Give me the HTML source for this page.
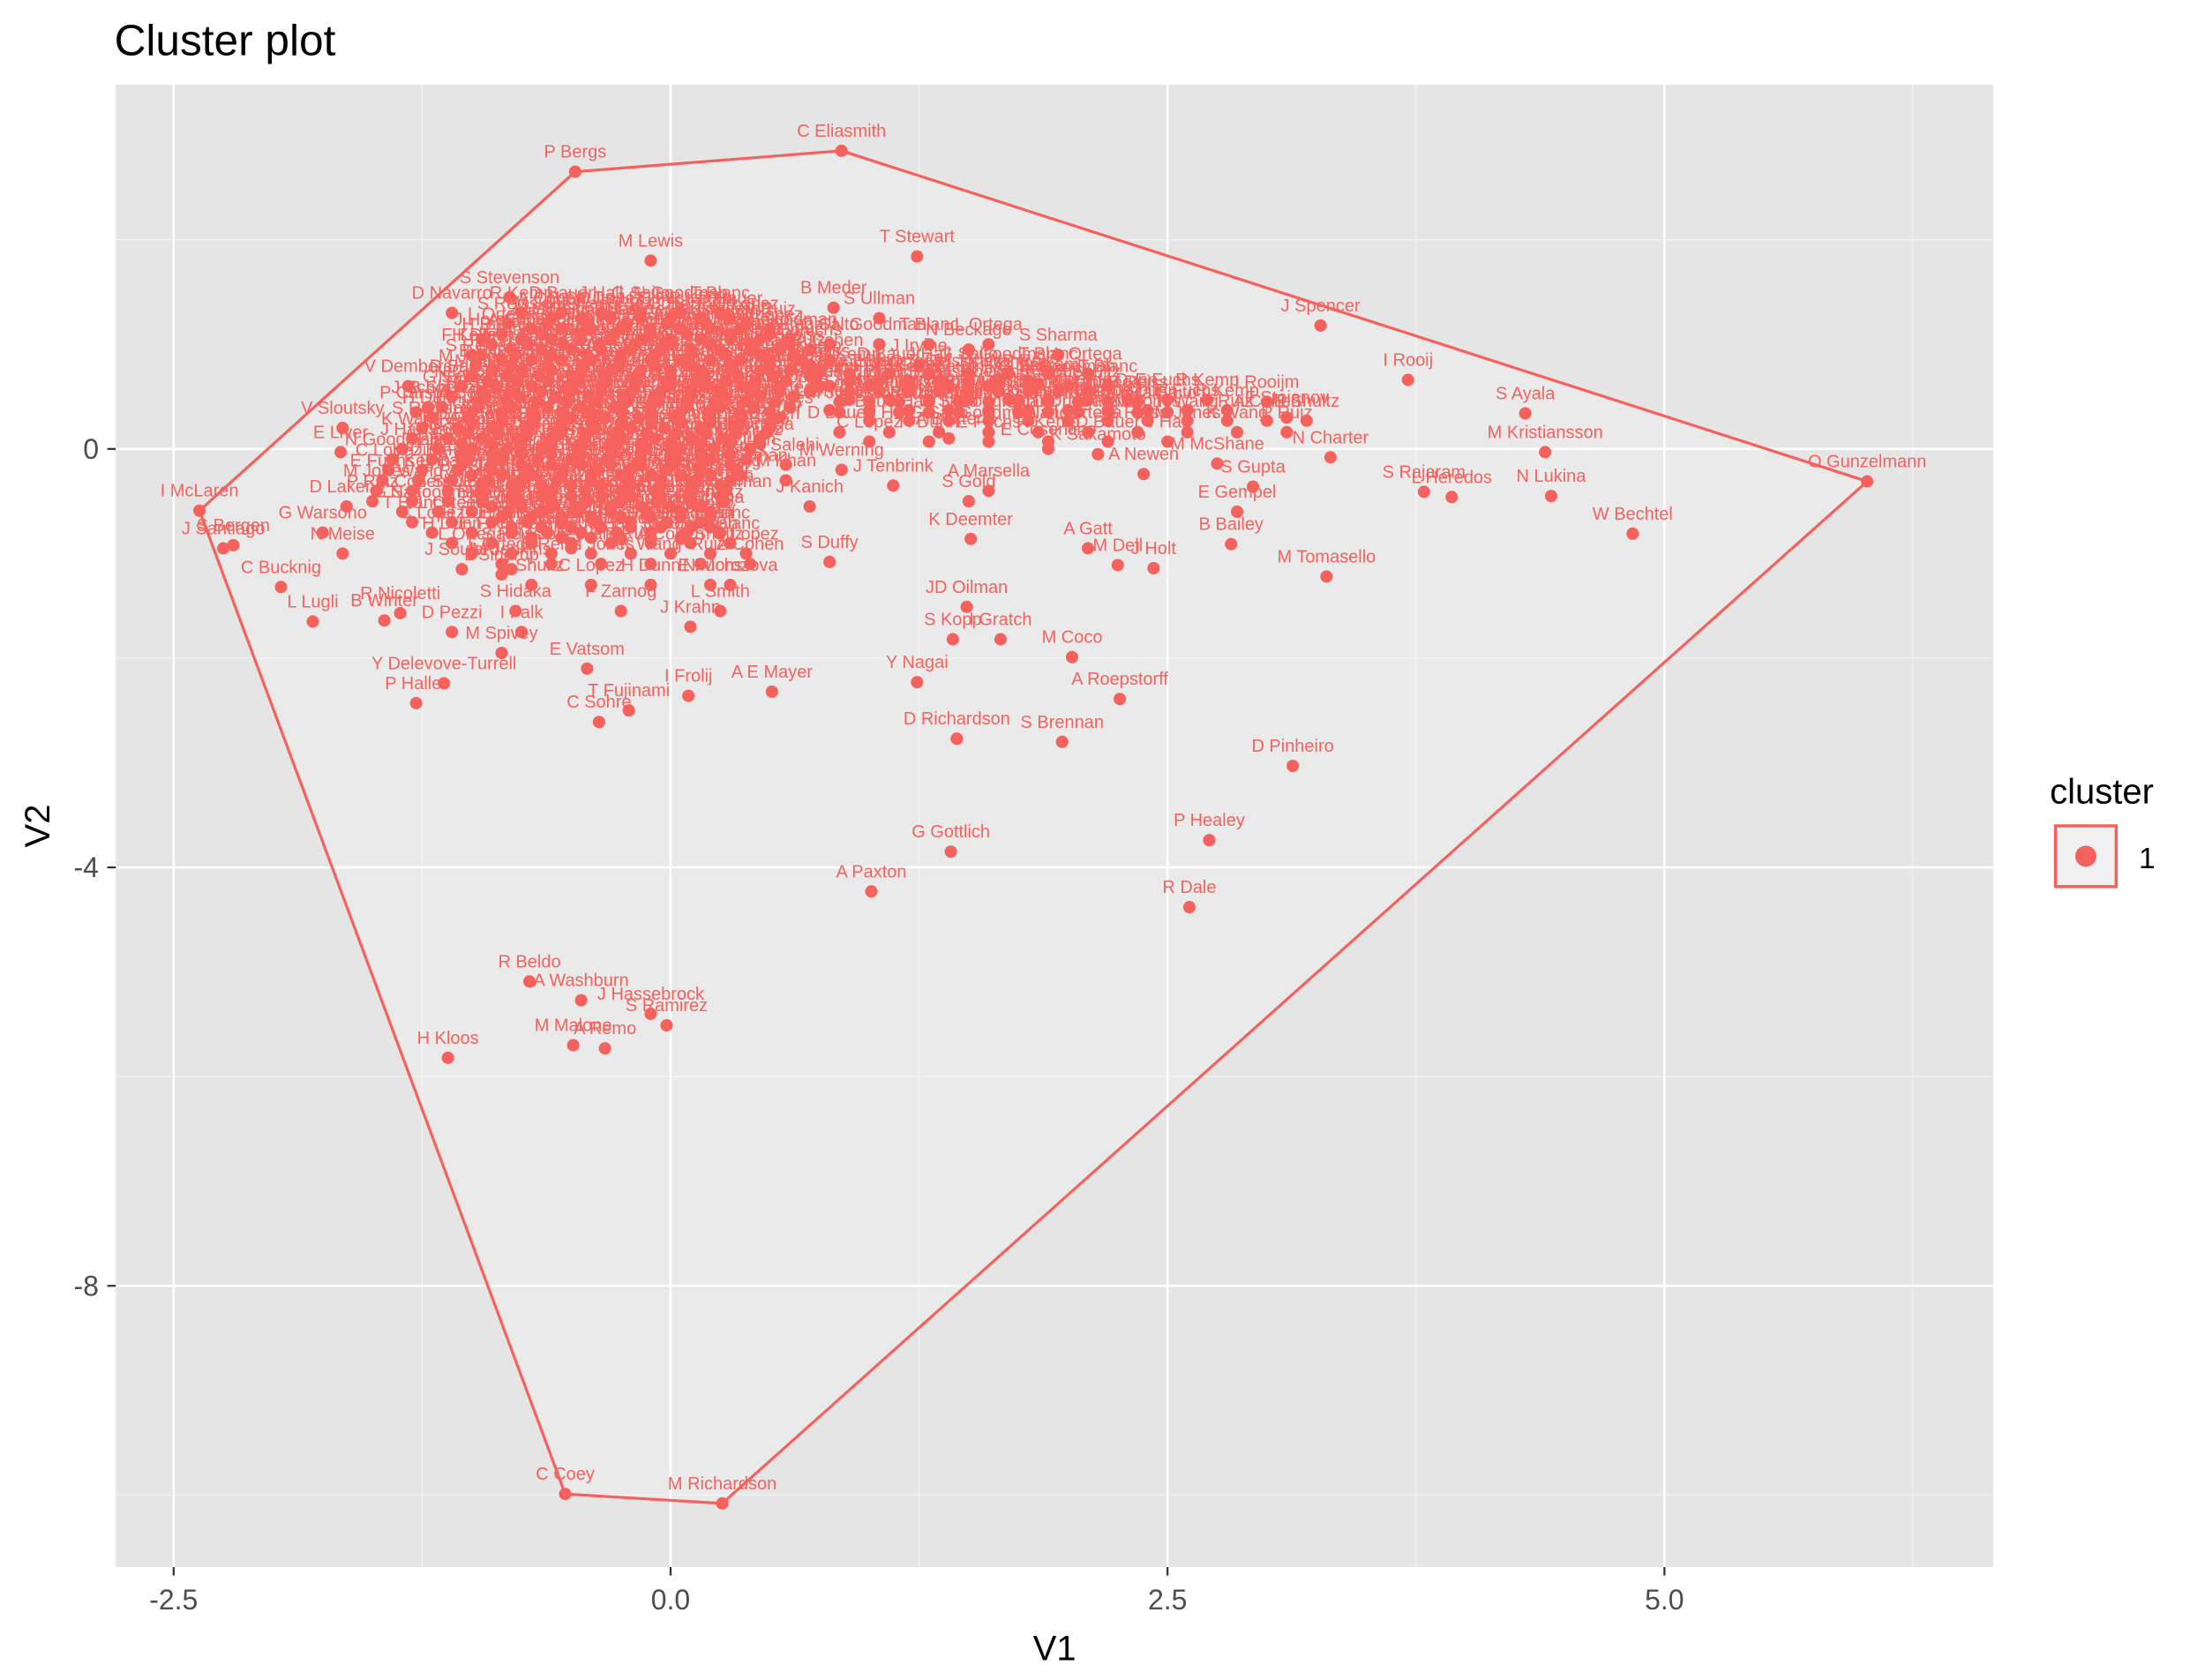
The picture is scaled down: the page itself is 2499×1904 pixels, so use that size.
<!DOCTYPE html>
<html><head><meta charset="utf-8"><style>
html,body{margin:0;padding:0;background:#fff}
svg{display:block}
text{font-family:"Liberation Sans",Arial,sans-serif}
</style></head><body>
<svg id="chart" width="2499" height="1904" viewBox="0 0 1561.9 1190" xmlns="http://www.w3.org/2000/svg">
<text x="81" y="39" font-size="31" fill="#000">Cluster plot</text>
<rect x="82" y="60" width="1330" height="1050" fill="#E5E5E5"/>
<g id="grid"></g>
<g id="hull"></g>
<g id="marks"></g>
<g id="axes"></g>
<text x="747" y="1176" font-size="25" text-anchor="middle">V1</text>
<text transform="translate(35,585) rotate(-90)" font-size="25" text-anchor="middle">V2</text>
<g>
<text x="1452" y="569" font-size="25">cluster</text>
<rect x="1456" y="585" width="43" height="43" fill="#F0F0F0" stroke="#F5625D" stroke-width="2.2"/>
<circle cx="1477.5" cy="606.5" r="7.5" fill="#F5625D"/>
<text x="1515" y="615" font-size="21">1</text>
</g>
</svg>
<script>
const xTicks = [-2.5, 0, 2.5, 5];
const xTickLabels = ["-2.5", "0.0", "2.5", "5.0"];
const xMinor = [-1.25, 1.25, 3.75, 6.25];
const yTicks = [0, -4, -8];
const yTickLabels = ["0", "-4", "-8"];
const yMinor = [2, -2, -6, -10];

const names = ["I McLaren","P Bergs","C Eliasmith","O Gunzelmann","M Richardson","C Coey","J Santiago","S Bergen",
"T Stewart","J Spencer","I Rooij","S Ayala","M Kristiansson","S Rajaram","L Heredos","N Lukina","W Bechtel","M Tomasello","N Charter",
"P Healey","R Dale","D Pinheiro","A Roepstorff","M Coco","S Brennan","D Richardson","Y Nagai","A Paxton","G Gottlich","S Kopp","I Gratch",
"JD Oilman","K Deemter","A Gatt","M Dell","J Holt","B Bailey","S Gupta","E Gempel","A Newen","M McShane","S Duffy","H Kloos","R Beldo",
"A Washburn","M Malone","A Remo","S Ramirez","J Hassebrock","L Lugli","B Winter","R Nicoletti","C Bucknig","Y Delevove-Turrell","P Haller",
"T Fujinami","C Sohre","I Frolij","A E Mayer","E Vatsom","M Lewis","S Stevenson","V Dembers","V Sloutsky","E Liver","G Warsono","D Lakens",
"N Meise","M Werning","J Tenbrink","N Salehi","M Khan","S Ullman","B Meder","N Beckage","S Sharma","D Markam","E Cosentino","K Sakamoto",
"A Baxter","J Kanich","S Gold","A Marsella","J Horst","F Keller","D Navarro","P Carson","J Schoen","L Sindrup","S Hidaka","L Smith","F Zarnog",
"I Falk","D Pezzi","M Spivey","J Krahn","N Morozova","M Jenkins","J Soulard","A Zary","C Prado","J Irvine","I Rooijm","F Stojanov"];
const v1 = [-2.37,-0.48,0.86,6.02,0.26,-0.53,-2.25,-2.2,
1.24,3.27,3.71,4.30,4.40,3.79,3.93,4.43,4.84,3.30,3.32,
2.71,2.61,3.13,2.26,2.02,1.97,1.44,1.24,1.01,1.41,1.42,1.66,
1.49,1.51,2.10,2.25,2.43,2.82,2.93,2.85,2.38,2.75,0.80,-1.12,-0.71,
-0.45,-0.49,-0.33,-0.02,-0.1,-1.80,-1.44,-1.36,-1.96,-1.14,-1.28,
-0.21,-0.36,0.09,0.51,-0.42,-0.10,-0.81,-1.32,-1.65,-1.66,-1.75,-1.63,
-1.65,0.86,1.12,0.58,0.58,1.05,0.82,1.5,1.95,1.85,1.9,2.15,
1.4,0.7,1.5,1.6,-0.95,-1.0,-1.1,-1.28,-1.22,-0.85,-0.78,0.25,-0.25,
-0.75,-1.1,-0.85,0.1,0.3,-0.8,-1.05,0.2,-0.5,1.25,3.0,3.1];
const v2 = [-0.59,2.65,2.85,-0.31,-10.08,-9.99,-0.95,-0.92,
1.84,1.18,0.66,0.34,-0.03,-0.41,-0.46,-0.45,-0.81,-1.22,-0.08,
-3.74,-4.38,-3.03,-2.39,-1.99,-2.80,-2.77,-2.23,-4.23,-3.85,-1.82,-1.82,
-1.51,-0.86,-0.95,-1.11,-1.14,-0.91,-0.36,-0.60,-0.24,-0.14,-1.08,-5.82,-5.09,
-5.27,-5.70,-5.73,-5.51,-5.4,-1.65,-1.64,-1.57,-1.32,-2.24,-2.43,
-2.50,-2.61,-2.36,-2.32,-2.1,1.80,1.45,0.6,0.2,-0.03,-0.8,-0.55,
-1.0,-0.2,-0.35,-0.15,-0.3,1.25,1.35,0.95,0.9,0.62,0.0,-0.05,
0.1,-0.55,-0.5,-0.4,1.05,0.9,1.3,0.35,0.4,-1.2,-1.55,-1.55,-1.55,
-1.75,-1.75,-1.95,-1.7,-1.3,-1.15,-1.15,-0.75,-0.95,0.8,0.45,0.3];

const cloudRowV2 = [1.3,1.1,0.9,0.7,0.5,0.3,0.1,-0.1,-0.3,-0.5,-0.7,-0.9,-1.1,-1.3,0.72,0.47,0.27,0.07,1.0,
1.2,1.0,0.8,0.6,0.4,0.2,0.0,-0.2,-0.4,-0.6,-0.8,-1.0,0.6,0.37,0.16];
const cloudRowV1 = [
[-0.75,-0.55,-0.35,-0.15,0.05,0.25],
[-0.85,-0.65,-0.45,-0.28,-0.1,0.08,0.3,0.5],
[-0.95,-0.78,-0.6,-0.42,-0.25,-0.08,0.1,0.28,0.45,0.62],
[-1.0,-0.82,-0.66,-0.5,-0.33,-0.17,0.0,0.17,0.34,0.52,0.7],
[-1.1,-0.93,-0.76,-0.58,-0.41,-0.24,-0.07,0.1,0.27,0.45,0.62],
[-1.2,-1.02,-0.85,-0.68,-0.5,-0.33,-0.16,0.02,0.19,0.36,0.55],
[-1.3,-1.12,-0.95,-0.77,-0.6,-0.43,-0.25,-0.08,0.1,0.27,0.45],
[-1.4,-1.2,-1.02,-0.85,-0.67,-0.5,-0.32,-0.15,0.03,0.2,0.38],
[-1.45,-1.27,-1.1,-0.92,-0.75,-0.57,-0.4,-0.22,-0.05,0.13,0.3],
[-1.5,-1.3,-1.12,-0.95,-0.77,-0.6,-0.42,-0.25,-0.07,0.1,0.27],
[-1.3,-1.1,-0.9,-0.72,-0.55,-0.37,-0.2,-0.02,0.15],
[-1.1,-0.9,-0.7,-0.5,-0.3,-0.1,0.1,0.3],
[-0.85,-0.6,-0.35,-0.1,0.15,0.4],
[-0.7,-0.4,-0.1,0.2],
[0.9,1.1,1.3,1.5,1.7,1.9,2.1],
[0.9,1.1,1.3,1.5,1.7,1.9,2.1,2.3,2.5,2.7],
[1.0,1.2,1.4,1.6,1.8,2.0,2.2,2.4,2.6,2.8,3.0,3.2],
[1.0,1.3,1.6,1.9,2.2,2.5],
[0.8,1.05,1.3,1.6],
[-0.82,-0.62,-0.42,-0.22,-0.02,0.18,0.38],
[-0.9,-0.72,-0.54,-0.36,-0.18,0.0,0.2,0.4,0.6],
[-0.98,-0.8,-0.62,-0.44,-0.26,-0.08,0.1,0.3,0.5,0.7],
[-1.05,-0.88,-0.7,-0.52,-0.35,-0.18,0.0,0.18,0.36,0.55,0.75],
[-1.15,-0.97,-0.8,-0.62,-0.45,-0.28,-0.1,0.08,0.25,0.42,0.6],
[-1.25,-1.07,-0.9,-0.72,-0.55,-0.38,-0.2,-0.03,0.15,0.32,0.5],
[-1.35,-1.17,-1.0,-0.82,-0.65,-0.47,-0.3,-0.12,0.05,0.22,0.4],
[-1.42,-1.25,-1.07,-0.9,-0.72,-0.55,-0.37,-0.2,-0.02,0.15,0.33],
[-1.48,-1.3,-1.12,-0.95,-0.78,-0.6,-0.43,-0.25,-0.08,0.1,0.28],
[-1.35,-1.17,-1.0,-0.82,-0.65,-0.47,-0.3,-0.12,0.05,0.2],
[-1.2,-1.0,-0.8,-0.62,-0.45,-0.27,-0.1,0.08,0.25],
[-1.0,-0.8,-0.6,-0.4,-0.2,0.0,0.2,0.38],
[0.8,1.0,1.2,1.4,1.6,1.8,2.0,2.2],
[0.8,1.0,1.2,1.4,1.6,1.8,2.0,2.2,2.4,2.6,2.8],
[0.85,1.1,1.35,1.6,1.85,2.1,2.35,2.6,2.85,3.1]];

// dense core of the main cloud (heavily overplotted region)
const coreRowV2 = [1.25,1.15,1.05,0.95,0.85,0.75,0.65,0.55,0.45,0.35,0.25,0.15,0.05,-0.05,-0.15,-0.25,-0.35,-0.45,-0.55,-0.65,-0.75,-0.85,0.55,0.45,0.35,0.65];
const coreRowV1 = [
[-0.6,-0.45,-0.3,-0.15,0.0,0.15,0.3],
[-0.7,-0.55,-0.4,-0.25,-0.1,0.05,0.2,0.35,0.5],
[-0.75,-0.6,-0.45,-0.3,-0.15,0.0,0.15,0.3,0.45,0.6],
[-0.8,-0.65,-0.5,-0.35,-0.2,-0.05,0.1,0.25,0.4,0.55,0.7],
[-0.85,-0.7,-0.55,-0.4,-0.25,-0.1,0.05,0.2,0.35,0.5,0.65,0.8],
[-0.9,-0.75,-0.6,-0.45,-0.3,-0.15,0.0,0.15,0.3,0.45,0.6,0.75],
[-0.92,-0.77,-0.62,-0.47,-0.32,-0.17,-0.02,0.13,0.28,0.43,0.58,0.73],
[-0.95,-0.8,-0.65,-0.5,-0.35,-0.2,-0.05,0.1,0.25,0.4,0.55,0.7],
[-0.97,-0.82,-0.67,-0.52,-0.37,-0.22,-0.07,0.08,0.23,0.38,0.53],
[-1.0,-0.85,-0.7,-0.55,-0.4,-0.25,-0.1,0.05,0.2,0.35,0.5],
[-1.0,-0.85,-0.7,-0.55,-0.4,-0.25,-0.1,0.05,0.2,0.35,0.5],
[-1.02,-0.87,-0.72,-0.57,-0.42,-0.27,-0.12,0.03,0.18,0.33,0.48],
[-1.05,-0.9,-0.75,-0.6,-0.45,-0.3,-0.15,0.0,0.15,0.3,0.45],
[-1.05,-0.9,-0.75,-0.6,-0.45,-0.3,-0.15,0.0,0.15,0.3],
[-1.05,-0.9,-0.75,-0.6,-0.45,-0.3,-0.15,0.0,0.15,0.3],
[-1.0,-0.85,-0.7,-0.55,-0.4,-0.25,-0.1,0.05,0.2,0.35],
[-0.95,-0.8,-0.65,-0.5,-0.35,-0.2,-0.05,0.1,0.25],
[-0.95,-0.8,-0.65,-0.5,-0.35,-0.2,-0.05,0.1,0.25],
[-0.9,-0.75,-0.6,-0.45,-0.3,-0.15,0.0,0.15],
[-0.85,-0.7,-0.55,-0.4,-0.25,-0.1,0.05,0.2],
[-0.8,-0.65,-0.5,-0.35,-0.2,-0.05,0.1],
[-0.7,-0.55,-0.4,-0.25,-0.1,0.05],
[0.9,1.05,1.2,1.35,1.5,1.65,1.8,1.95,2.1],
[0.85,1.0,1.15,1.3,1.45,1.6,1.75,1.9,2.05,2.2,2.35],
[0.85,1.0,1.15,1.3,1.45,1.6,1.75,1.9,2.05,2.2,2.35,2.5],
[0.9,1.05,1.2,1.35,1.5,1.65,1.8]];
const cloudNames = ["R Kemp","D Bauer","J Hall","G Saito","N Goodman","T Blanc","L Ortega","S Reiss","M Jones","K Wang","P Ruiz","A Cohen","B Shultz","C Lopez","H Dunn","E Fuchs"];

const color = "#F5625D";
const NS = "http://www.w3.org/2000/svg";
const px0 = 82, px1 = 1412, py0 = 60, py1 = 1110;
function xs(v){ return 475 + 140.8 * v; }
function ys(v){ return 318 - 74.1 * v; }
function mk(tag, attrs, parent){ const e = document.createElementNS(NS, tag); for (const k in attrs) e.setAttribute(k, attrs[k]); parent.appendChild(e); return e; }

const grid = document.getElementById('grid');
xMinor.forEach(v => { const l = mk('line', {x1:xs(v),x2:xs(v),y1:py0,y2:py1,stroke:'#F2F2F2','stroke-width':0.8}, grid);

 });
yMinor.forEach(v => { const l = mk('line', {x1:px0,x2:px1,y1:ys(v),y2:ys(v),stroke:'#F2F2F2','stroke-width':0.8}, grid);

 });
xTicks.forEach(v => { const l = mk('line', {x1:xs(v),x2:xs(v),y1:py0,y2:py1,stroke:'#fff','stroke-width':1.6}, grid);

 });
yTicks.forEach(v => { const l = mk('line', {x1:px0,x2:px1,y1:ys(v),y2:ys(v),stroke:'#fff','stroke-width':1.6}, grid);

 });

const axes = document.getElementById('axes');
xTicks.forEach((v, i) => {
  const t = mk('line', {x1:xs(v),x2:xs(v),y1:py1,y2:py1+6,stroke:'#333','stroke-width':1.4}, axes);
  
  
  const tx = mk('text', {x:xs(v), y:py1+30, 'font-size':20, 'text-anchor':'middle', fill:'#4D4D4D'}, axes);
  tx.textContent = xTickLabels[i];
  
  
});
yTicks.forEach((v, i) => {
  const t = mk('line', {x1:px0-6,x2:px0,y1:ys(v),y2:ys(v),stroke:'#333','stroke-width':1.4}, axes);
  
  
  const tx = mk('text', {x:px0-12, y:ys(v)+7, 'font-size':20, 'text-anchor':'end', fill:'#4D4D4D'}, axes);
  tx.textContent = yTickLabels[i];
  
  
});

const all = [];
names.forEach((n, i) => all.push({n, x:v1[i], y:v2[i]}));
let ci = 0;
cloudRowV2.forEach((yv, r) => cloudRowV1[r].forEach(xv => { all.push({n: cloudNames[ci % cloudNames.length], x: xv, y: yv}); ci++; }));
coreRowV2.forEach((yv, r) => coreRowV1[r].forEach(xv => { all.push({n: cloudNames[ci % cloudNames.length], x: xv, y: yv}); ci++; }));

const pts = all.map(p => [xs(p.x), ys(p.y)]).sort((a,b) => a[0]-b[0] || a[1]-b[1]);
function cross(o,a,b){ return (a[0]-o[0])*(b[1]-o[1]) - (a[1]-o[1])*(b[0]-o[0]); }
const lower = [], upper = [];
pts.forEach(p => { while (lower.length >= 2 && cross(lower[lower.length-2], lower[lower.length-1], p) <= 0) lower.pop(); lower.push(p); });
pts.slice().reverse().forEach(p => { while (upper.length >= 2 && cross(upper[upper.length-2], upper[upper.length-1], p) <= 0) upper.pop(); upper.push(p); });
const hullPts = lower.slice(0,-1).concat(upper.slice(0,-1));
const hull = mk('polygon', {points: hullPts.map(p => p.join(',')).join(' '), fill:'#FFFFFF', 'fill-opacity':0.22, stroke:color, 'stroke-width':2}, document.getElementById('hull'));



const marks = document.getElementById('marks');
all.forEach(p => {
  const c = mk('circle', {cx: xs(p.x), cy: ys(p.y), r: 4.4, fill: color}, marks);
  
  
  const t = mk('text', {x: xs(p.x), y: ys(p.y) - 10, 'font-size': 12.5, 'text-anchor':'middle', fill: color}, marks);
  t.textContent = p.n;
  
  
});
</script>
</body></html>
